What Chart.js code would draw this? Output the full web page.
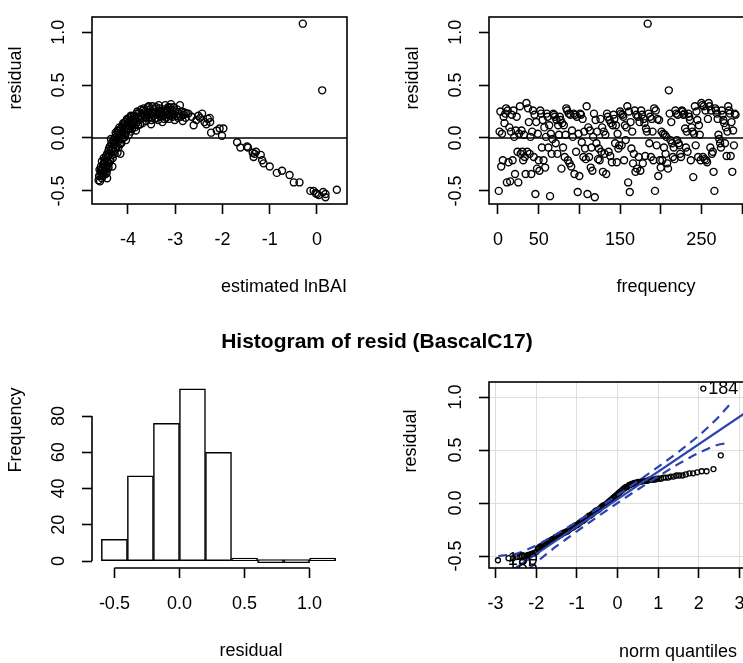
<!DOCTYPE html>
<html lang="en">
<head>
<meta charset="utf-8">
<title>Residual diagnostics (BascalC17)</title>
<script src="https://cdn.jsdelivr.net/npm/chart.js@4.4.1/dist/chart.umd.min.js"></script>
<style>
  html, body { margin:0; padding:0; background:#fff; }
  body { width:743px; height:663px; overflow:hidden; position:relative; font-family:"Liberation Sans", Arial, Helvetica, sans-serif; }
  canvas { position:absolute; }
  .lbl { position:absolute; font-size:18px; color:#000; white-space:nowrap; transform:translate(-50%,-50%); line-height:1; }
  .rot { transform:translate(-50%,-50%) rotate(-90deg); }
  .main { font-weight:bold; font-size:21px; }
</style>
</head>
<body>
<canvas id="c1" width="372" height="320" style="left:0;top:0"></canvas>
<canvas id="c2" width="430" height="320" style="left:372px;top:0"></canvas>
<canvas id="c3" width="372" height="343" style="left:0;top:320px"></canvas>
<canvas id="c4" width="430" height="343" style="left:372px;top:320px"></canvas>

<div class="lbl rot" style="left:15px;top:78px">residual</div>
<div class="lbl" style="left:284px;top:286px">estimated lnBAI</div>
<div class="lbl rot" style="left:412px;top:78px">residual</div>
<div class="lbl" style="left:656px;top:286px">frequency</div>
<div class="lbl main" style="left:377px;top:340px">Histogram of resid (BascalC17)</div>
<div class="lbl rot" style="left:15px;top:430px">Frequency</div>
<div class="lbl" style="left:251px;top:650px">residual</div>
<div class="lbl rot" style="left:410px;top:441px">residual</div>
<div class="lbl" style="left:678px;top:651px">norm quantiles</div>

<script>
// ---------------- DATA ----------------
// Panel 1: residual vs estimated lnBAI
const fittedX = [
  -4.62,-4.60,-4.58,-4.57,-4.56,-4.55,-4.54,-4.53,-4.52,-4.51,-4.50,-4.50,-4.49,-4.48,-4.47,-4.46,-4.46,-4.45,-4.44,-4.43,
  -4.61,-4.59,-4.57,-4.55,-4.53,-4.51,-4.49,-4.47,-4.45,-4.44,-4.43,-4.41,
  -4.42,-4.41,-4.40,-4.39,-4.38,-4.37,-4.36,-4.35,-4.34,-4.33,-4.32,-4.31,-4.30,-4.29,-4.28,-4.27,-4.26,-4.25,-4.24,-4.23,-4.22,-4.21,-4.20,
  -4.40,-4.38,-4.36,-4.34,-4.32,-4.30,-4.28,-4.26,-4.24,-4.22,-4.20,
  -4.19,-4.18,-4.17,-4.16,-4.15,-4.14,-4.13,-4.12,-4.11,-4.10,-4.09,-4.08,-4.07,-4.06,-4.05,-4.04,-4.03,-4.02,-4.01,-4.00,-3.99,-3.98,-3.97,-3.96,-3.95,-3.94,-3.93,-3.92,-3.91,-3.90,
  -4.18,-4.14,-4.10,-4.06,-4.02,-3.98,-3.94,-3.90,-3.86,-3.83,
  -3.88,-3.87,-3.85,-3.84,-3.82,-3.81,-3.79,-3.78,-3.76,-3.75,-3.73,-3.72,-3.70,-3.69,-3.67,-3.66,-3.64,-3.63,-3.61,-3.60,-3.58,-3.57,-3.55,-3.54,-3.52,-3.51,
  -3.80,-3.74,-3.68,-3.62,-3.56,-3.50,
  -3.49,-3.48,-3.46,-3.45,-3.43,-3.42,-3.40,-3.39,-3.37,-3.36,-3.34,-3.33,-3.31,-3.30,-3.28,-3.27,-3.25,-3.24,-3.22,-3.21,-3.19,-3.18,-3.16,-3.15,-3.13,-3.12,-3.10,-3.09,-3.07,-3.06,-3.04,-3.03,-3.01,-3.00,
  -3.47,-3.41,-3.35,-3.29,-3.23,-3.17,-3.11,-3.05,
  -2.98,-2.96,-2.94,-2.92,-2.90,-2.88,-2.86,-2.84,-2.82,-2.80,-2.78,-2.76,
  -2.72,-2.65,-2.61,-2.55,-2.51,-2.47,-2.43,-2.38,-2.34,-2.31,-2.27,-2.26,-2.24,-2.12,-2.06,-2.01,-1.98,-1.69,-1.62,-1.48,
  -1.46,-1.36,-1.34,-1.32,-1.29,-1.19,-1.16,-1.13,-1.00,-0.85,-0.74,-0.58,-0.49,-0.37,-0.30,-0.14,-0.07,-0.03,0.00,0.04,
  0.11,0.13,0.18,0.18,0.42
];
const fittedResid = [
  -0.40,-0.30,-0.35,-0.27,-0.33,-0.22,-0.30,-0.36,-0.25,-0.19,-0.31,-0.23,-0.28,-0.20,-0.34,-0.26,-0.17,-0.22,-0.38,-0.29,
  -0.36,-0.41,-0.31,-0.38,-0.28,-0.34,-0.24,-0.30,-0.33,-0.15,-0.23,-0.28,
  -0.18,-0.12,-0.24,-0.15,-0.08,-0.20,-0.11,-0.05,-0.16,-0.27,-0.09,-0.02,-0.13,-0.06,0.00,-0.10,-0.04,0.03,-0.08,0.01,-0.14,0.05,-0.03,
  -0.10,-0.22,-0.01,-0.12,-0.19,-0.04,-0.15,0.05,-0.02,0.07,-0.09,
  0.07,0.02,-0.06,-0.15,0.09,0.04,-0.01,0.11,0.06,0.00,0.13,0.08,0.03,0.15,0.10,-0.02,0.06,0.12,0.17,0.08,0.14,0.03,0.19,0.11,0.16,0.06,0.13,0.20,0.09,0.17,
  0.10,-0.05,0.14,0.01,0.18,0.09,0.21,0.12,0.19,0.07,
  0.14,0.21,0.10,0.18,0.23,0.15,0.20,0.12,0.24,0.17,0.21,0.27,0.19,0.14,0.23,0.28,0.20,0.25,0.16,0.22,0.29,0.24,0.19,0.27,0.22,0.13,
  0.25,0.13,0.26,0.19,0.30,0.17,
  0.25,0.30,0.21,0.27,0.18,0.24,0.29,0.22,0.26,0.17,0.23,0.28,0.20,0.25,0.22,0.15,0.27,0.21,0.24,0.31,0.19,0.26,0.22,0.29,0.18,0.24,0.21,0.32,0.26,0.20,0.23,0.29,0.17,0.25,
  0.23,0.19,0.31,0.24,0.18,0.27,0.29,0.22,
  0.21,0.27,0.19,0.23,0.31,0.20,0.25,0.16,0.22,0.24,0.19,0.23,
  0.23,0.20,0.12,0.17,0.21,0.19,0.23,0.15,0.13,0.18,0.19,0.15,0.05,0.07,0.09,0.02,0.09,-0.04,-0.09,-0.08,
  -0.09,-0.14,-0.18,-0.15,-0.13,-0.16,-0.21,-0.24,-0.27,-0.33,-0.31,-0.35,-0.42,-0.42,1.08,-0.50,-0.50,-0.52,-0.53,-0.54,
  0.45,-0.51,-0.53,-0.56,-0.49
];

// Panel 2: residual vs frequency (observation order 1..n)
const freqResid = [
  -0.50,0.06,0.25,-0.27,0.04,-0.21,0.20,0.14,0.23,
  0.28,-0.42,0.26,-0.23,0.10,-0.41,0.06,0.22,-0.21,
  0.26,0.01,-0.34,0.07,0.20,-0.13,-0.42,0.04,
  0.30,-0.15,0.07,-0.13,-0.21,0.03,-0.18,-0.34,
  0.33,-0.13,0.28,0.15,-0.15,0.01,-0.34,0.06,
  0.26,-0.18,0.22,-0.53,0.15,-0.29,0.04,-0.21,-0.31,
  0.26,0.23,-0.09,0.17,-0.21,0.10,-0.28,0.01,
  0.23,0.20,-0.09,0.12,-0.55,0.04,-0.15,-0.01,
  0.23,0.22,0.20,-0.05,0.17,-0.15,0.12,0.03,
  0.20,0.17,-0.29,0.14,-0.09,0.12,-0.18,0.03,
  0.28,0.26,-0.21,0.23,-0.24,0.22,-0.27,0.07,0.01,
  0.23,-0.34,0.22,-0.13,0.20,-0.51,0.04,-0.36,
  0.23,0.22,-0.04,0.18,-0.18,0.06,-0.10,-0.20,
  0.30,-0.53,0.10,-0.18,0.07,-0.28,-0.09,-0.31,0.01,
  0.23,-0.56,0.17,-0.05,0.06,-0.20,-0.10,-0.21,
  0.18,-0.13,0.10,-0.32,0.06,-0.15,0.03,-0.34,
  0.23,0.20,-0.13,0.17,-0.17,0.14,-0.23,0.12,
  0.22,0.18,-0.05,0.12,-0.23,0.04,-0.10,-0.07,
  0.25,0.23,-0.07,0.22,0.20,-0.21,0.12,-0.02,0.10,
  0.30,-0.42,0.25,-0.51,0.15,-0.10,0.06,-0.24,-0.15,
  0.26,-0.32,0.22,-0.29,0.20,-0.18,0.15,-0.31,
  0.26,0.22,-0.24,0.18,0.14,-0.17,0.09,0.06,
  1.08,0.23,-0.05,0.20,-0.18,0.18,0.06,-0.21,
  0.28,-0.50,0.26,-0.07,0.18,-0.36,0.17,-0.21,-0.28,
  0.06,-0.21,0.04,-0.09,0.03,-0.15,0.01,-0.24,-0.29,
  0.45,0.23,-0.02,0.15,-0.05,-0.18,-0.09,-0.20,
  0.26,0.23,-0.02,0.22,-0.05,-0.07,-0.15,-0.18,
  0.26,0.25,0.22,0.23,0.09,-0.09,0.06,-0.13,
  0.23,0.20,0.17,-0.21,0.10,0.06,-0.37,0.04,
  0.30,-0.07,0.25,0.17,-0.18,0.12,0.03,-0.21,
  0.33,0.31,-0.18,0.30,-0.20,0.26,-0.21,-0.23,0.18,
  0.33,0.30,-0.09,0.26,-0.15,-0.13,-0.32,-0.50,
  0.28,0.26,0.23,0.18,0.03,-0.01,-0.05,-0.09,
  0.26,0.22,0.17,0.14,-0.05,0.10,-0.17,0.06,
  0.30,0.26,0.23,-0.17,0.15,-0.32,0.07,-0.07,
  0.23,0.22
];

// Panel 3: histogram
const histBreaks = [-0.6,-0.4,-0.2,0.0,0.2,0.4,0.6,0.8,1.0,1.2];
const histCounts = [12,47,76,95,60,1,0,0,1];

// Panel 4: normal QQ plot
const qqTheo = [
  -2.94,-2.68,-2.57,-2.48,-2.41,-2.35,-2.29,-2.24,-2.20,-2.16,-2.12,-2.08,-2.05,-2.02,-1.99,-1.96,-1.93,-1.90,
  -1.87,-1.84,-1.81,-1.78,-1.75,-1.72,-1.69,-1.66,-1.63,-1.60,-1.57,-1.54,-1.51,-1.48,-1.45,-1.42,-1.39,-1.36,-1.33,-1.30,
  -1.27,-1.24,-1.21,-1.18,-1.15,-1.12,-1.09,-1.06,-1.03,-1.00,-0.97,-0.94,-0.91,-0.88,-0.85,-0.82,-0.79,-0.76,-0.73,-0.70,
  -0.67,-0.64,-0.61,-0.58,-0.55,-0.52,-0.49,-0.46,-0.43,-0.40,-0.37,-0.34,-0.31,-0.28,-0.25,-0.22,-0.19,-0.16,-0.13,-0.10,
  -0.07,-0.04,-0.01,
  0.02,0.05,0.08,0.11,0.14,0.17,0.20,0.23,0.26,0.29,0.32,0.35,0.38,0.41,0.44,0.47,0.50,
  0.54,0.58,0.62,0.66,0.70,0.74,0.78,0.82,
  0.87,0.92,0.97,1.02,1.07,
  1.13,1.19,1.25,1.31,
  1.38,1.45,1.52,
  1.60,1.68,
  1.77,1.86,1.96,2.07,
  2.11,2.19,2.36,2.54
];
const qqResid = [
  -0.54,-0.52,-0.52,-0.51,-0.51,-0.50,-0.50,-0.50,-0.49,-0.49,-0.48,-0.48,-0.47,-0.47,-0.46,-0.43,-0.42,-0.41,
  -0.41,-0.40,-0.39,-0.38,-0.38,-0.37,-0.36,-0.36,-0.35,-0.34,-0.34,-0.33,-0.32,-0.32,-0.31,-0.30,-0.30,-0.29,-0.28,-0.28,
  -0.27,-0.27,-0.26,-0.25,-0.24,-0.23,-0.23,-0.22,-0.21,-0.21,-0.20,-0.19,-0.18,-0.17,-0.17,-0.16,-0.15,-0.14,-0.13,-0.12,
  -0.12,-0.11,-0.10,-0.09,-0.08,-0.07,-0.07,-0.06,-0.05,-0.04,-0.03,-0.02,-0.02,-0.01,0.00,0.01,0.02,0.03,0.04,0.05,
  0.06,0.07,0.08,
  0.09,0.10,0.11,0.12,0.13,0.14,0.15,0.15,0.16,0.17,0.17,0.18,0.18,0.19,0.19,0.19,0.20,
  0.20,0.20,0.21,0.21,0.21,0.21,0.22,0.22,
  0.22,0.22,0.23,0.23,0.23,
  0.24,0.24,0.24,0.25,
  0.25,0.26,0.26,
  0.26,0.27,
  0.28,0.28,0.29,0.30,
  1.08,0.30,0.32,0.45
];
// reference line (two read end points) and pointwise confidence envelope
const qqLineX = [-3.2, 3.2];
const qqLineY = [-0.792, 0.866];
const qqEnvZ     = [-2.93,-2.70,-2.50,-2.25,-2.00,-1.75,-1.50,-1.25,-1.00,-0.50,0.00,0.50,1.00,1.25,1.50,1.75,2.00,2.25,2.50,2.75];
const qqEnvUpper = [-0.50,-0.49,-0.48,-0.443,-0.40,-0.348,-0.293,-0.237,-0.177,-0.054,0.074,0.206,0.341,0.411,0.483,0.558,0.637,0.723,0.818,0.925];
const qqEnvLower = [-0.94,-0.83,-0.74,-0.649,-0.563,-0.483,-0.407,-0.337,-0.267,-0.132,0.000,0.128,0.251,0.311,0.369,0.423,0.473,0.517,0.552,0.565];
const qqLabelText = ['184','190','185'];
const qqLabelZ = [2.11,-2.82,-2.82];
const qqLabelR = [1.08,-0.535,-0.60];

// Tick values and labels
const residTicks = [-0.5,0,0.5,1.0];
const residTickLabels = ['-0.5','0.0','0.5','1.0'];
const fittedTicks = [-4,-3,-2,-1,0];
const fittedTickLabels = ['-4','-3','-2','-1','0'];
const freqTicks = [0,50,100,150,200,250,300];
const freqTickLabels = ['0','50','','150','','250',''];
const histXTicks = [-0.5,0,0.5,1.0];
const histXTickLabels = ['-0.5','0.0','0.5','1.0'];
const histYTicks = [0,20,40,60,80];
const histYTickLabels = ['0','20','40','60','80'];
const qqTicks = [-3,-2,-1,0,1,2,3];
const qqTickLabels = ['-3','-2','-1','0','1','2','3'];

// ---------------- DRAWING ----------------
const FONT = '"Liberation Sans", Arial, Helvetica, sans-serif';
Chart.defaults.font.family = FONT;
Chart.defaults.font.size = 18;
Chart.defaults.color = '#000';
const BLUE = '#2c44b0';
const LW = 1.6;

function rPlugin(cfg) {
  return {
    id: 'rstyle',
    afterDatasetsDraw(chart) {
      const ctx = chart.ctx, a = chart.chartArea, x = chart.scales.x, y = chart.scales.y;
      ctx.save();
      ctx.strokeStyle = '#000';
      ctx.lineWidth = LW;
      if (cfg.hline !== undefined) {
        const py = Math.round(y.getPixelForValue(cfg.hline));
        ctx.beginPath(); ctx.moveTo(a.left, py); ctx.lineTo(a.right, py); ctx.stroke();
      }
      if (cfg.box) {
        ctx.strokeRect(Math.round(a.left), Math.round(a.top),
                       Math.round(a.right - a.left), Math.round(a.bottom - a.top));
      }
      if (cfg.axisLines) {
        const xt = cfg.xTicks, yt = cfg.yTicks;
        const by = Math.round(a.bottom), lx = Math.round(a.left);
        ctx.beginPath();
        ctx.moveTo(x.getPixelForValue(xt[0]), by); ctx.lineTo(x.getPixelForValue(xt[xt.length - 1]), by);
        ctx.moveTo(lx, y.getPixelForValue(yt[0])); ctx.lineTo(lx, y.getPixelForValue(yt[yt.length - 1]));
        ctx.stroke();
      }
      ctx.fillStyle = '#000';
      ctx.font = '18px ' + FONT;
      ctx.textAlign = 'center';
      ctx.textBaseline = 'middle';
      cfg.yTicks.forEach((v, i) => {
        ctx.save();
        ctx.translate(a.left - 33, y.getPixelForValue(v));
        ctx.rotate(-Math.PI / 2);
        ctx.fillText(cfg.yLabels[i], 0, 0);
        ctx.restore();
      });
      if (cfg.pointLabels) {
        ctx.save();
        ctx.beginPath(); ctx.rect(a.left, a.top, a.right - a.left, a.bottom - a.top); ctx.clip();
        ctx.textAlign = 'left';
        cfg.pointLabels.text.forEach((t, i) => {
          ctx.fillText(t, x.getPixelForValue(cfg.pointLabels.x[i]) + 5, y.getPixelForValue(cfg.pointLabels.y[i]));
        });
        ctx.restore();
      }
      ctx.restore();
    }
  };
}

function makeChart(id, type, datasets, p) {
  return new Chart(document.getElementById(id), {
    type: type,
    data: { datasets: datasets },
    options: {
      responsive: false, animation: false, devicePixelRatio: 1, events: [],
      layout: { padding: { left: 0, top: p.top, right: p.right, bottom: p.bottom } },
      plugins: { legend: { display: false }, tooltip: { enabled: false } },
      scales: {
        x: {
          type: 'linear', min: p.xmin, max: p.xmax, offset: false,
          afterBuildTicks: s => { s.ticks = p.xTicks.map(v => ({ value: v })); },
          afterFit: s => { s.height = 60; },
          border: { display: false },
          grid: { offset: false, drawOnChartArea: !!p.grid, color: '#dedede', lineWidth: 1,
                  drawTicks: true, tickLength: 10, tickColor: '#000', tickWidth: LW },
          ticks: { autoSkip: false, maxRotation: 0, minRotation: 0, padding: 15, color: '#000',
                   font: { size: 18, family: FONT },
                   callback: (v, i) => p.xLabels[i] }
        },
        y: {
          type: 'linear', min: p.ymin, max: p.ymax,
          afterBuildTicks: s => { s.ticks = p.yTicks.map(v => ({ value: v })); },
          afterFit: s => { s.width = p.left; },
          border: { display: false },
          grid: { drawOnChartArea: !!p.grid, color: '#dedede', lineWidth: 1,
                  drawTicks: true, tickLength: 10, tickColor: '#000', tickWidth: LW },
          ticks: { display: false }
        }
      }
    },
    plugins: [rPlugin(p.r)]
  });
}

const circleStyle = (r, w) => ({
  pointStyle: 'circle', pointRadius: r, pointBorderWidth: w, borderWidth: w,
  borderColor: '#000', backgroundColor: 'rgba(0,0,0,0)', pointBackgroundColor: 'rgba(0,0,0,0)',
  pointBorderColor: '#000', showLine: false
});

// Panel 1
makeChart('c1', 'scatter', [
  Object.assign({ data: fittedX.map((v, i) => ({ x: v, y: fittedResid[i] })) }, circleStyle(3.5, 1.4))
], {
  top: 17, right: 25, bottom: 56, left: 92,
  xmin: -4.76, xmax: 0.635, ymin: -0.624, ymax: 1.143,
  xTicks: fittedTicks, xLabels: fittedTickLabels, yTicks: residTicks,
  r: { box: true, hline: 0, yTicks: residTicks, yLabels: residTickLabels }
});

// Panel 2
makeChart('c2', 'scatter', [
  Object.assign({ data: freqResid.map((v, i) => ({ x: i + 1, y: v })) }, circleStyle(3.5, 1.4))
], {
  top: 17, right: 57, bottom: 56, left: 117,
  xmin: -11.0, xmax: 303.6, ymin: -0.624, ymax: 1.143,
  xTicks: freqTicks, xLabels: freqTickLabels, yTicks: residTicks,
  r: { box: true, hline: 0, yTicks: residTicks, yLabels: residTickLabels }
});

// Panel 3
const histMids = histCounts.map((c, i) => (histBreaks[i] + histBreaks[i + 1]) / 2);
makeChart('c3', 'bar', [
  { data: histMids.map((m, i) => ({ x: m, y: histCounts[i] })),
    backgroundColor: '#fff', borderColor: '#000', borderWidth: 1.5, borderSkipped: false,
    barPercentage: 1, categoryPercentage: 1, minBarLength: 3 }
], {
  top: 62, right: 27, bottom: 35, left: 92,
  xmin: -0.672, xmax: 1.272, ymin: -3.8, ymax: 98.8,
  xTicks: histXTicks, xLabels: histXTickLabels, yTicks: histYTicks,
  r: { axisLines: true, xTicks: histXTicks, yTicks: histYTicks, yLabels: histYTickLabels }
});

// Panel 4
const envStyle = { showLine: true, pointRadius: 0, borderColor: BLUE, borderWidth: 2.2,
                   borderDash: [9, 6], cubicInterpolationMode: 'monotone', fill: false };
makeChart('c4', 'scatter', [
  { data: qqLineX.map((v, i) => ({ x: v, y: qqLineY[i] })), showLine: true, pointRadius: 0,
    borderColor: BLUE, borderWidth: 2.2, fill: false },
  Object.assign({ data: qqEnvZ.map((v, i) => ({ x: v, y: qqEnvUpper[i] })) }, envStyle),
  Object.assign({ data: qqEnvZ.map((v, i) => ({ x: v, y: qqEnvLower[i] })) }, envStyle),
  Object.assign({ data: qqTheo.map((v, i) => ({ x: v, y: qqResid[i] })) }, circleStyle(2.5, 1.3))
], {
  top: 62, right: 56, bottom: 35, left: 117, grid: true,
  xmin: -3.16, xmax: 3.16, ymin: -0.613, ymax: 1.142,
  xTicks: qqTicks, xLabels: qqTickLabels, yTicks: residTicks,
  r: { box: true, yTicks: residTicks, yLabels: residTickLabels,
       pointLabels: { text: qqLabelText, x: qqLabelZ, y: qqLabelR } }
});
</script>
</body>
</html>
